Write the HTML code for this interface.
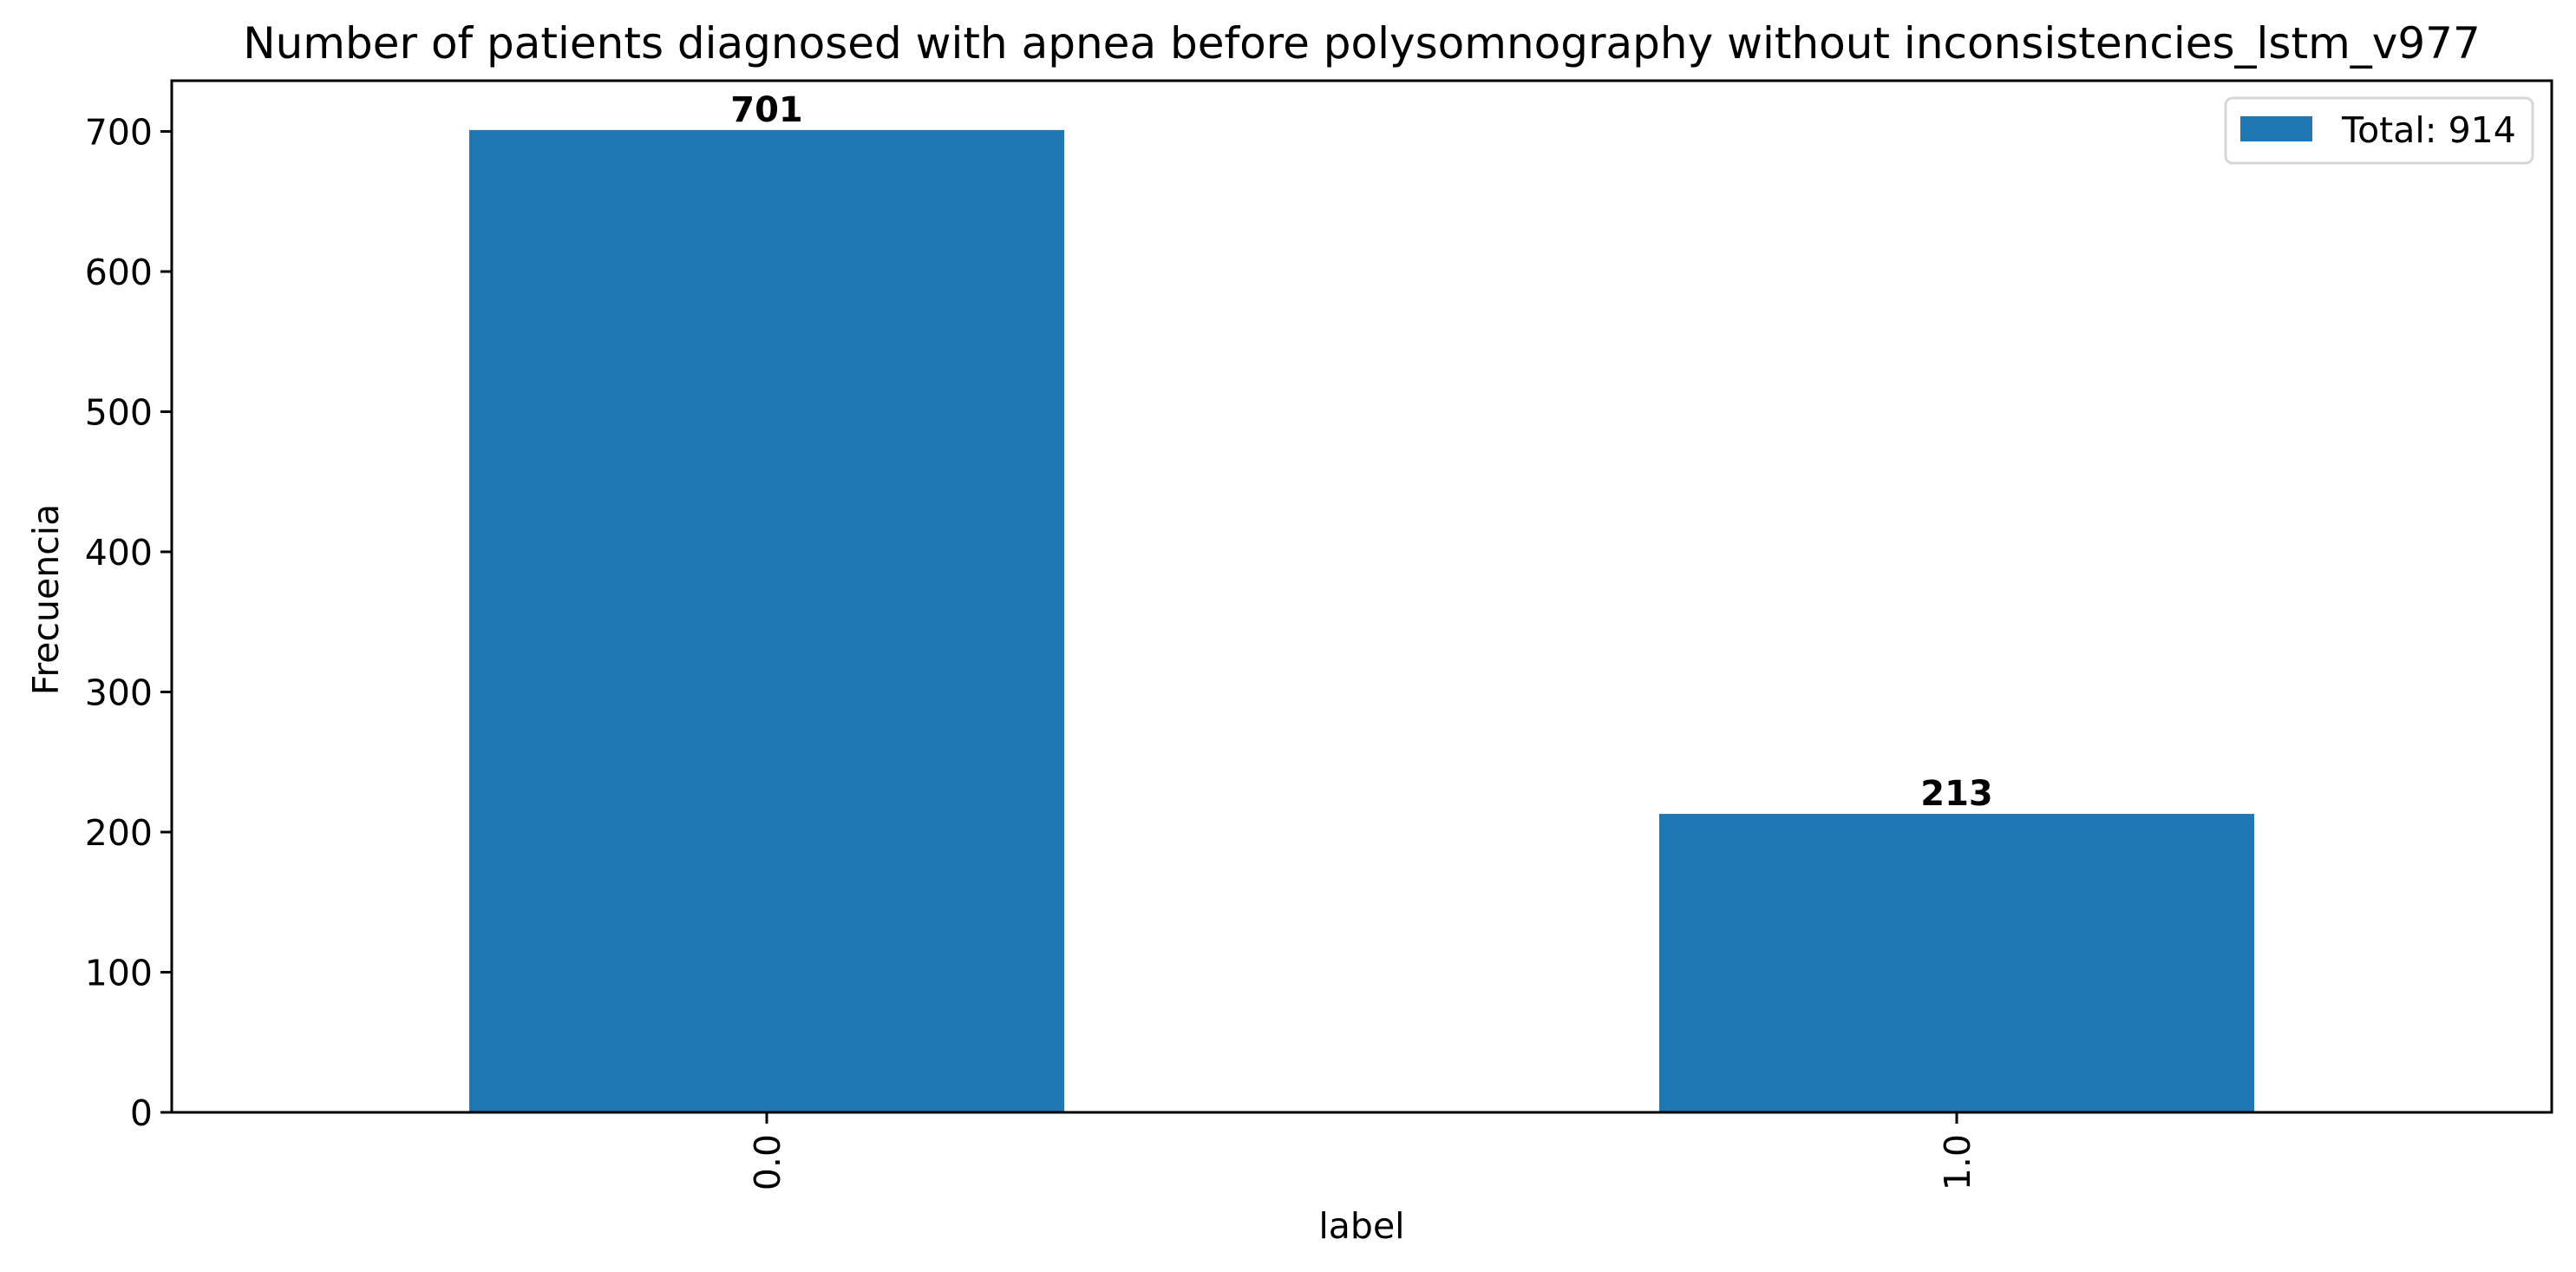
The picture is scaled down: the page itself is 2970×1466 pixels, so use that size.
<!DOCTYPE html>
<html><head><meta charset="utf-8"><style>
html,body{margin:0;padding:0;background:#fff;}
svg{display:block;font-family:"DejaVu Sans","Liberation Sans",sans-serif;}
</style></head><body>
<svg id="chart" width="2970" height="1466" viewBox="0 0 2970 1466">
<rect x="0" y="0" width="2970" height="1466" fill="#fff"/>
<text x="1570" y="67" font-size="50" text-anchor="middle">Number of patients diagnosed with apnea before polysomnography without inconsistencies_lstm_v977</text>
<g id="bars"></g>
<g id="yaxis"></g>
<g id="xaxis"></g>
<rect x="198" y="93" width="2744" height="1189" fill="none" stroke="#000" stroke-width="3"/>
<text transform="translate(67,691) rotate(-90)" font-size="41" text-anchor="middle">Frecuencia</text>
<text x="1570" y="1427" font-size="41" text-anchor="middle">label</text>
<g>
<rect x="2566" y="113" width="354" height="75" rx="8" fill="#fff" stroke="#d6d6d6" stroke-width="3"/>
<rect x="2583" y="134" width="83" height="29" fill="#1f77b4"/>
<text x="2700" y="164" font-size="41">Total: 914</text>
</g>
</svg>
<script>
const categories = ["0.0", "1.0"];
const values = [701, 213];
const yTicks = [0, 100, 200, 300, 400, 500, 600, 700];

const NS = "http://www.w3.org/2000/svg";
const L = 198, R = 2942, T = 93, B = 1282;
const yMax = 736.2;
const xMin = -0.5, xMax = 1.5;
function xs(i){ return L + (i - xMin) / (xMax - xMin) * (R - L); }
function ys(v){ return B - v / yMax * (B - T); }
function mk(tag, attrs, parent){
  const e = document.createElementNS(NS, tag);
  for (const k in attrs) e.setAttribute(k, attrs[k]);
  parent.appendChild(e);
  return e;
}
const barsG = document.getElementById('bars');
const yG = document.getElementById('yaxis');
const xG = document.getElementById('xaxis');
const bw = 0.5 * (R - L) / (xMax - xMin);
categories.forEach((c, i) => {
  const cx = xs(i);
  const r = mk('rect', {x: cx - bw/2, y: ys(values[i]), width: bw, height: B - ys(values[i]), fill: '#1f77b4'}, barsG);
  
  
  const t = mk('text', {x: cx, y: ys(values[i]) - 10, 'font-size': 40, 'font-weight': 'bold', 'text-anchor': 'middle'}, barsG);
  t.textContent = values[i];
  
  
  const tk = mk('line', {x1: cx, x2: cx, y1: B, y2: B + 13, stroke: '#000', 'stroke-width': 3}, xG);
  
  
  const tl = mk('text', {transform: 'translate(' + (cx + 15) + ',' + (B + 25) + ') rotate(-90)', 'font-size': 41, 'text-anchor': 'end'}, xG);
  tl.textContent = c;
  
  
});
yTicks.forEach(v => {
  const y = ys(v);
  const tk = mk('line', {x1: L - 13, x2: L, y1: y, y2: y, stroke: '#000', 'stroke-width': 3}, yG);
  
  
  const tl = mk('text', {x: L - 22, y: y + 15, 'font-size': 41, 'text-anchor': 'end'}, yG);
  tl.textContent = v;
  
  
});
</script>
</body></html>
